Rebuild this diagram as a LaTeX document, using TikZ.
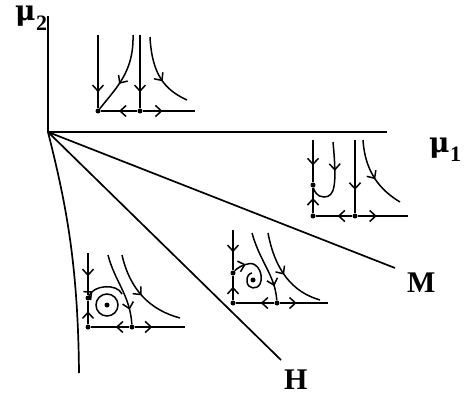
\documentclass[tikz,border=0pt]{standalone}
\usepackage{fontspec}
\setmainfont{Liberation Serif}
\newfontfamily\mufont{DejaVu Serif}
\usetikzlibrary{arrows.meta,decorations.markings}
\begin{document}
\begin{tikzpicture}[x=1pt,y=-1pt,
  ln/.style={line width=1.7pt},
  pl/.style={line width=1.5pt},
  marr/.style={postaction={decorate},decoration={markings,mark=at position #1 with {\arrow{Straight Barb[length=6pt,width=11pt,line width=1.5pt]}}}},
  dotn/.style={circle,fill,inner sep=0pt,minimum size=5pt},
  lbl/.style={font=\fontsize{30}{30}\selectfont\bfseries,inner sep=0pt},
  mul/.style={font=\fontsize{28}{28}\selectfont\mufont\bfseries,inner sep=0pt},
  sub/.style={font=\fontsize{22}{22}\selectfont\bfseries,inner sep=0pt}]
\useasboundingbox (0,0) rectangle (465,395);
% main parameter plane
\coordinate (O) at (48,132);
\coordinate (Vt) at (48,16);
\coordinate (Hr) at (387,132);
\coordinate (Me) at (395,268);
\coordinate (He) at (281,360);
\coordinate (Ce) at (79,373);
\draw[ln] (Vt) -- (O) -- (Hr);
\draw[ln] (O) -- (Me);
\draw[ln] (O) -- (He);
\draw[ln] (O) .. controls (65,200) and (78,260) .. (Ce);
\node[mul,anchor=base west] (m2) at (15,21) {μ};
\node[sub,anchor=base west] (s2) at ([yshift=-10pt]m2.base east) {2};
\node[mul,anchor=base west] (m1) at (429,153) {μ};
\node[sub,anchor=base west] (s1) at ([yshift=-9pt]m1.base east) {1};
\node[lbl,anchor=base west] (M) at (407,292) {M};
\node[lbl,anchor=base west] (H) at (284,389) {H};
% portrait 1 (top)
\node[dotn] (a0) at (98,111) {};
\node[dotn] (a1) at (140,111) {};
\coordinate (a2) at (195,111);
\coordinate (a3) at (98,35);
\coordinate (a4) at (140,35);
\draw[pl,marr=0.78] (a3) -- (a0);
\draw[pl,marr=0.78] (a4) -- (a1);
\draw[pl,marr=0.5] (a1) -- (a0);
\draw[pl,marr=0.38] (a1) -- (a2);
\draw[pl,marr=0.62] (133,35) .. controls (134,72) and (116,88) .. (a0);
\draw[pl,marr=0.6] (150,37) .. controls (152,75) and (165,90) .. (187,100);
% portrait 2 (between axis and M)
\node[dotn] (b0) at (313,216) {};
\node[dotn] (b1) at (355,216) {};
\node[dotn] (b5) at (313,185) {};
\coordinate (b2) at (408,216);
\coordinate (b3) at (313,140);
\coordinate (b4) at (355,140);
\draw[pl,marr=0.6] (b3) -- (b5);
\draw[pl,marr=0.6] (b0) -- (b5);
\draw[pl,marr=0.68] (b4) -- (b1);
\draw[pl,marr=0.4] (b1) -- (b0);
\draw[pl,marr=0.38] (b1) -- (b2);
\draw[pl,marr=0.38] (333,142) .. controls (337,185) and (335,197) .. (324,197) .. controls (317,197) and (314,191) .. (b5);
\draw[pl,marr=0.55] (363,140) .. controls (365,172) and (380,190) .. (400,202);
% portrait 3 (between M and H)
\node[dotn] (c0) at (233,303) {};
\node[dotn] (c1) at (277,303) {};
\node[dotn] (c5) at (233,273) {};
\node[dotn] (c6) at (253,280) {};
\coordinate (c2) at (328,303);
\coordinate (c3) at (233,230);
\draw[pl,marr=0.55] (c3) -- (c5);
\draw[pl,marr=0.55] (c0) -- (c5);
\draw[pl,marr=0.35] (c1) -- (c0);
\draw[pl,marr=0.35] (c1) -- (c2);
\draw[pl,marr=0.8] (252,233) .. controls (260,262) and (275,275) .. (c1);
\draw[pl,marr=0.5] (268,233) .. controls (275,270) and (292,292) .. (320,300);
\draw[pl,marr=0.75] (c5) .. controls (237,268) and (243,264.5) .. (250,263.5);
\draw[pl] (250,263.5) .. controls (258,263) and (264,275) .. (260,284)
  .. controls (257,290) and (248,289) .. (247,282)
  .. controls (246,276) and (250,273) .. (252,273);
% portrait 4 (between H and curve)
\node[dotn] (d0) at (88,327) {};
\node[dotn] (d1) at (132,327) {};
\node[dotn] (d5) at (88,298) {};
\node[dotn] (d6) at (107,305) {};
\coordinate (d2) at (185,327);
\coordinate (d3) at (88,253);
\draw[pl,marr=0.55] (d3) -- (d5);
\draw[pl,marr=0.55] (d0) -- (d5);
\draw[pl,marr=0.35] (d1) -- (d0);
\draw[pl,marr=0.35] (d1) -- (d2);
\draw[pl] (d6) circle[radius=11];
\draw[pl,marr=0.15] (89,296) .. controls (93,285) and (117,283) .. (122,294);
\draw[pl,marr=0.8] (108,255) .. controls (115,282) and (130,295) .. (d1);
\draw[pl,marr=0.5] (122,255) .. controls (130,290) and (150,310) .. (180,318);
\end{tikzpicture}
\end{document}
